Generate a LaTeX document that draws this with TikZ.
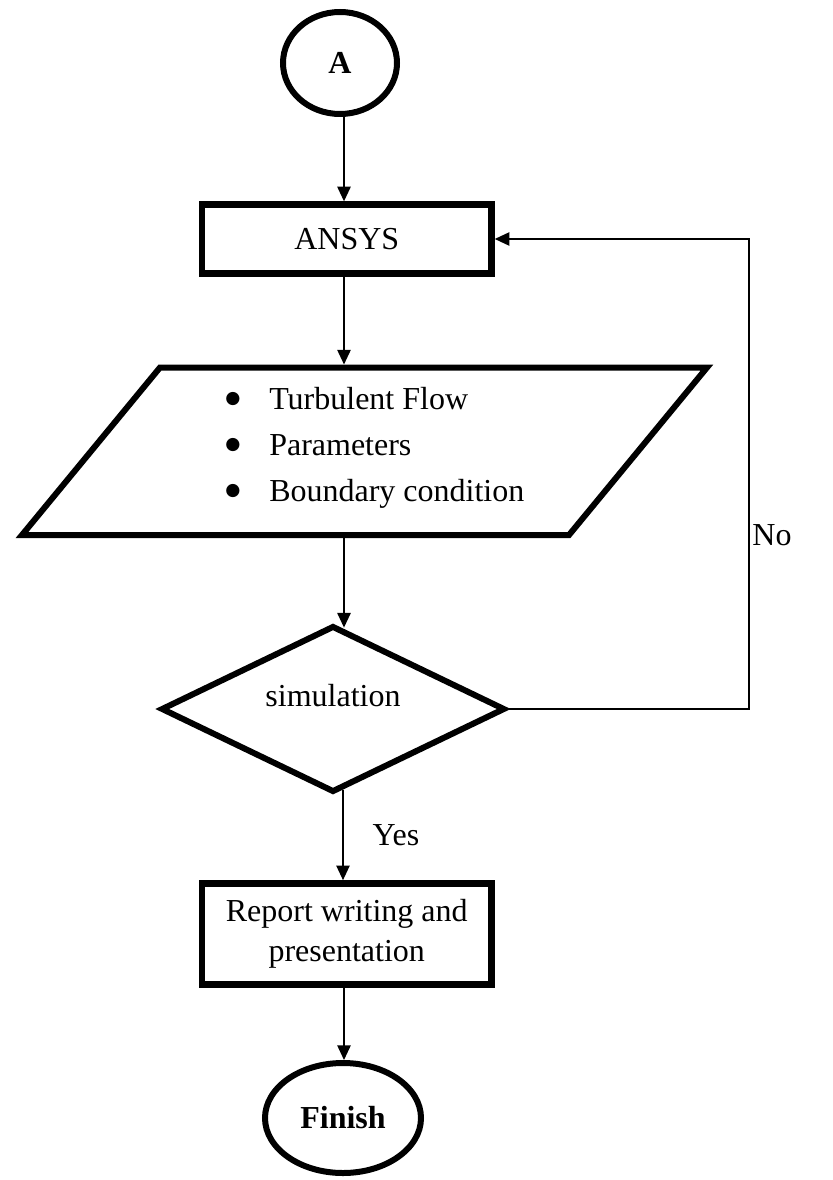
\documentclass[tikz,border=0pt]{standalone}
\usepackage{fontspec}
\setmainfont{Liberation Serif}
\newfontfamily\dotfont{DejaVu Sans}
\usetikzlibrary{shapes.geometric,arrows.meta}

\newcommand{\blt}{\makebox[33pt][l]{\raisebox{.2em}{\dotfont\fontsize{13}{13}\selectfont ●}}}

\begin{document}
\begin{tikzpicture}[x=0.75pt,y=-0.75pt,inner sep=0pt,
  font=\fontsize{24}{30}\selectfont,
  >={Triangle[length=11pt,width=10pt]},
  conn/.style={->,line width=1.2pt},
  term/.style={ellipse,draw,line width=4.5pt,font=\fontsize{24}{30}\selectfont\bfseries},
  proc/.style={rectangle,draw,line width=5pt,minimum width=217pt,align=center},
  decision/.style={diamond,draw,line width=4.5pt,minimum width=258pt,minimum height=125pt}]

\useasboundingbox (0,0) rectangle (832,1180);

\node[term,minimum width=85.5pt,minimum height=76.5pt] (a) at (340,63) {A};
\node[proc,minimum height=51.5pt] (ansys) at (346.75,239) {ANSYS};

\coordinate (p1) at (22,535);
\coordinate (p2) at (160,367.5);
\coordinate (p3) at (707,367.5);
\coordinate (p4) at (569,535);
\draw[line width=4.5pt] (p1) -- (p2) -- (p3) -- (p4) -- cycle;
\node[align=left,anchor=west,font=\fontsize{24}{34.5}\selectfont] (inputs) at (225,448)
  {\blt Turbulent Flow\\ \blt Parameters\\ \blt Boundary condition};
\coordinate (ptop) at (344,364.5);
\coordinate (pbot) at (344,538);

\node[decision] (sim) at (333,709) {};
\node (simtxt) at (333,696) {simulation};

\node[proc,minimum height=75.75pt] (report) at (346.75,934) {Report writing and\\presentation};
\node[term,minimum width=117pt,minimum height=82.5pt] (fin) at (343,1118) {Finish};

\node (yes) at (396,835) {Yes};
\node (no) at (772,535) {No};
\coordinate (noturn) at (749,239);

\draw[conn] (a.south -| ptop) -- (ansys.north -| ptop);
\draw[conn] (ansys.south -| ptop) -- (ptop);
\draw[conn] (pbot) -- (pbot |- sim.83);
\draw[conn] (sim.-83) -- (sim.-83 |- report.north);
\draw[conn] (report.south -| ptop) -- (fin.north -| ptop);

\draw[conn] (sim.east) -| (noturn) -- (ansys.east);

\end{tikzpicture}
\end{document}
